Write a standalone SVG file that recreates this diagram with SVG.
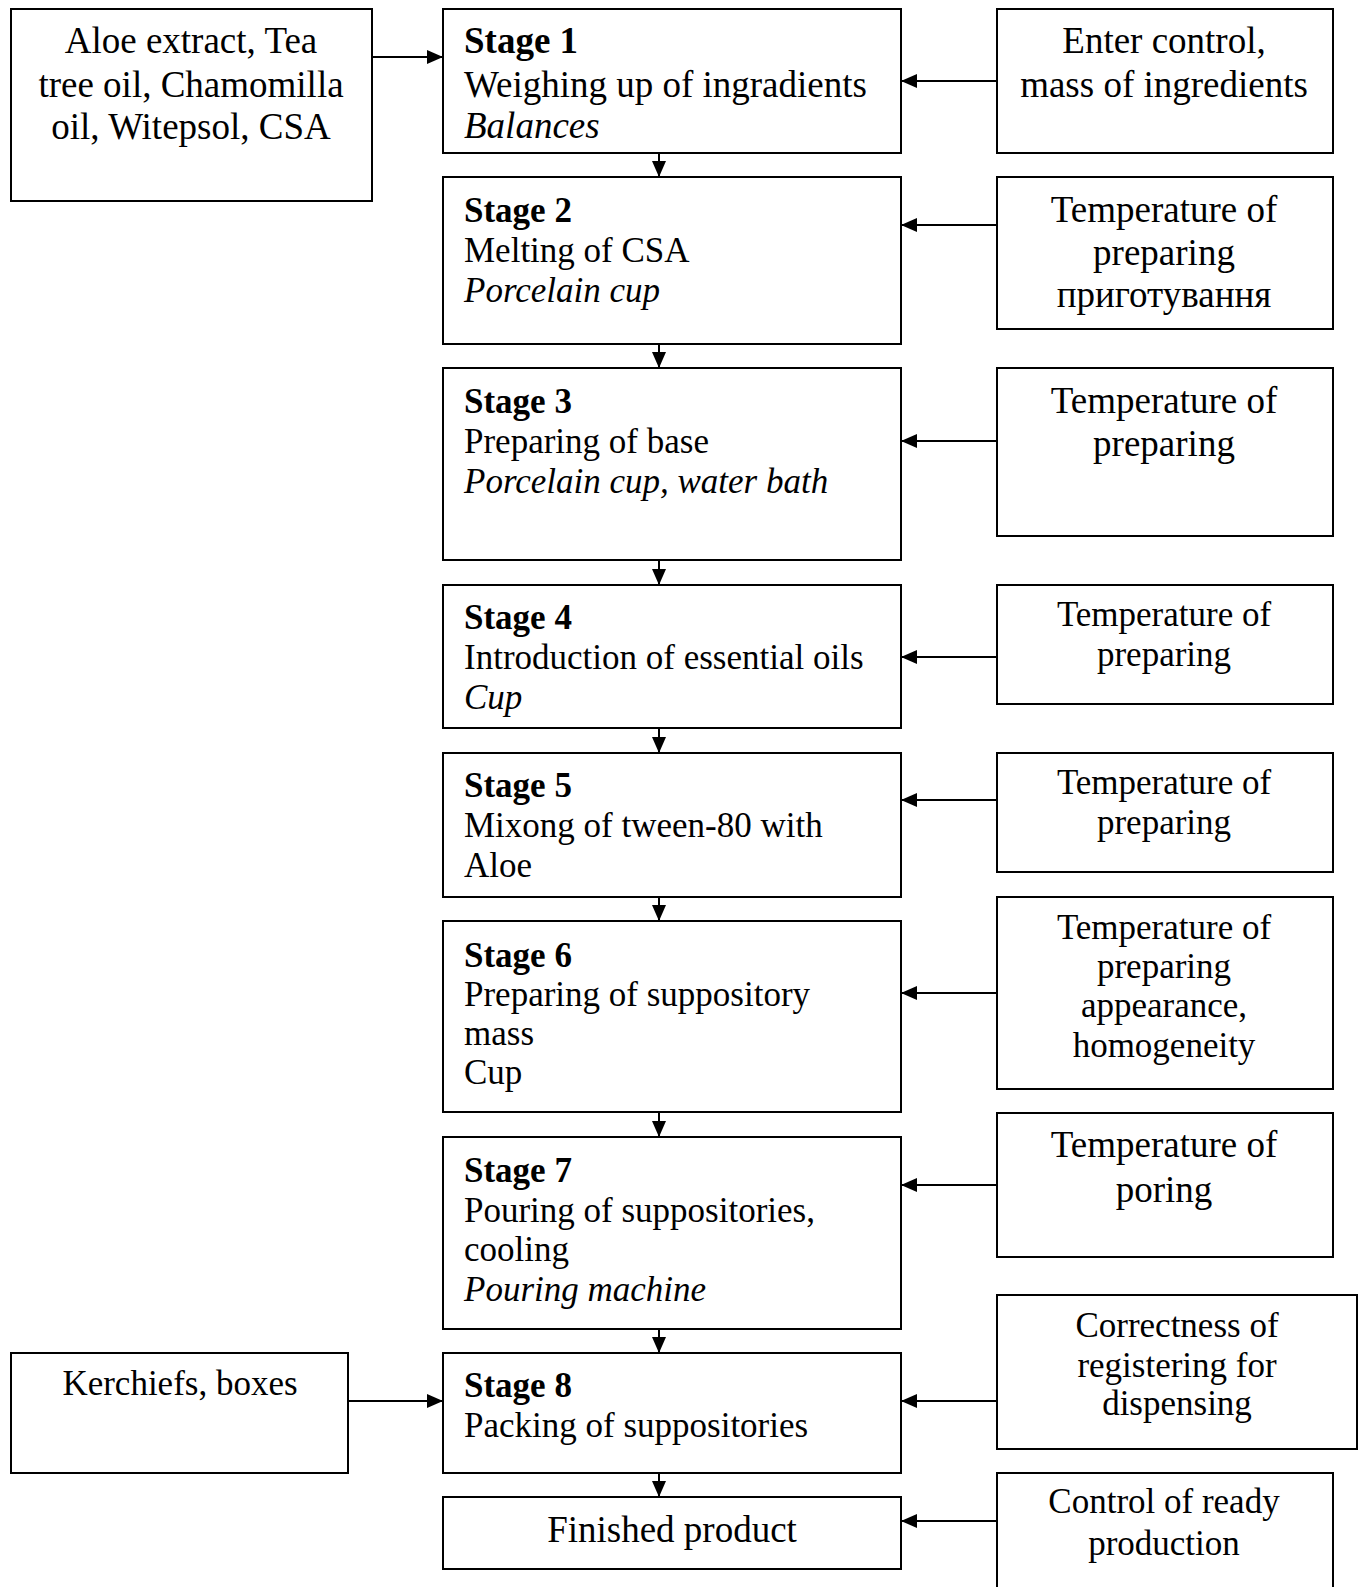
<svg xmlns="http://www.w3.org/2000/svg" width="1359" height="1587" viewBox="0 0 1359 1587">
<defs>
<style>
.box{fill:#fff;stroke:#000;stroke-width:2}
text{font-family:"Liberation Serif","Times New Roman",serif;fill:#000;font-size:35px}
.c{text-anchor:middle}
.b{font-weight:bold}
.i{font-style:italic}
.big{font-size:37px}
.ln{stroke:#000;stroke-width:2;fill:none}
</style>
<marker id="ah" viewBox="0 0 16 14" refX="16" refY="7" markerWidth="16" markerHeight="14" markerUnits="userSpaceOnUse" orient="auto">
<path d="M0,0 L16,7 L0,14 Z" fill="#000"/>
</marker>
</defs>
<rect width="1359" height="1587" fill="#fff"/>

<g id="connectors">
<line class="ln" x1="372" y1="57" x2="443" y2="57" marker-end="url(#ah)"/>
<line class="ln" x1="348" y1="1401" x2="443" y2="1401" marker-end="url(#ah)"/>
<line class="ln" x1="659" y1="153" x2="659" y2="177" marker-end="url(#ah)"/>
<line class="ln" x1="659" y1="344" x2="659" y2="368" marker-end="url(#ah)"/>
<line class="ln" x1="659" y1="560" x2="659" y2="585" marker-end="url(#ah)"/>
<line class="ln" x1="659" y1="728" x2="659" y2="753" marker-end="url(#ah)"/>
<line class="ln" x1="659" y1="897" x2="659" y2="921" marker-end="url(#ah)"/>
<line class="ln" x1="659" y1="1112" x2="659" y2="1137" marker-end="url(#ah)"/>
<line class="ln" x1="659" y1="1329" x2="659" y2="1353" marker-end="url(#ah)"/>
<line class="ln" x1="659" y1="1473" x2="659" y2="1497" marker-end="url(#ah)"/>
<line class="ln" x1="997" y1="81" x2="901" y2="81" marker-end="url(#ah)"/>
<line class="ln" x1="997" y1="225" x2="901" y2="225" marker-end="url(#ah)"/>
<line class="ln" x1="997" y1="441" x2="901" y2="441" marker-end="url(#ah)"/>
<line class="ln" x1="997" y1="657" x2="901" y2="657" marker-end="url(#ah)"/>
<line class="ln" x1="997" y1="800" x2="901" y2="800" marker-end="url(#ah)"/>
<line class="ln" x1="997" y1="993" x2="901" y2="993" marker-end="url(#ah)"/>
<line class="ln" x1="997" y1="1185" x2="901" y2="1185" marker-end="url(#ah)"/>
<line class="ln" x1="997" y1="1401" x2="901" y2="1401" marker-end="url(#ah)"/>
<line class="ln" x1="997" y1="1521" x2="901" y2="1521" marker-end="url(#ah)"/>
</g>

<g id="input1">
<rect class="box" x="11" y="9" width="361" height="192"/>
<text class="c big" x="191" y="53">Aloe extract, Tea</text>
<text class="c big" x="191" y="97">tree oil, Chamomilla</text>
<text class="c big" x="191" y="139">oil, Witepsol, CSA</text>
</g>

<g id="input8">
<rect class="box" x="11" y="1353" width="337" height="120"/>
<text class="c" x="180" y="1395">Kerchiefs, boxes</text>
</g>

<g id="stage1">
<rect class="box" x="443" y="9" width="458" height="144"/>
<text class="b big" x="464" y="53">Stage 1</text>
<text class="big" x="464" y="97">Weighing up of ingradients</text>
<text class="i big" x="464" y="138">Balances</text>
</g>

<g id="stage2">
<rect class="box" x="443" y="177" width="458" height="167"/>
<text class="b" x="464" y="222">Stage 2</text>
<text x="464" y="262">Melting of CSA</text>
<text class="i" x="464" y="302">Porcelain cup</text>
</g>

<g id="stage3">
<rect class="box" x="443" y="368" width="458" height="192"/>
<text class="b" x="464" y="413">Stage 3</text>
<text x="464" y="453">Preparing of base</text>
<text class="i" x="464" y="493">Porcelain cup, water bath</text>
</g>

<g id="stage4">
<rect class="box" x="443" y="585" width="458" height="143"/>
<text class="b" x="464" y="629">Stage 4</text>
<text x="464" y="669">Introduction of essential oils</text>
<text class="i" x="464" y="709">Cup</text>
</g>

<g id="stage5">
<rect class="box" x="443" y="753" width="458" height="144"/>
<text class="b" x="464" y="797">Stage 5</text>
<text x="464" y="837">Mixong of tween-80 with</text>
<text x="464" y="877">Aloe</text>
</g>

<g id="stage6">
<rect class="box" x="443" y="921" width="458" height="191"/>
<text class="b" x="464" y="967">Stage 6</text>
<text x="464" y="1006">Preparing of suppository</text>
<text x="464" y="1045">mass</text>
<text x="464" y="1084">Cup</text>
</g>

<g id="stage7">
<rect class="box" x="443" y="1137" width="458" height="192"/>
<text class="b" x="464" y="1182">Stage 7</text>
<text x="464" y="1222">Pouring of suppositories,</text>
<text x="464" y="1261">cooling</text>
<text class="i" x="464" y="1301">Pouring machine</text>
</g>

<g id="stage8">
<rect class="box" x="443" y="1353" width="458" height="120"/>
<text class="b" x="464" y="1397">Stage 8</text>
<text x="464" y="1437">Packing of suppositories</text>
</g>

<g id="finished">
<rect class="box" x="443" y="1497" width="458" height="72"/>
<text class="c big" x="672" y="1542">Finished product</text>
</g>

<g id="control1">
<rect class="box" x="997" y="9" width="336" height="144"/>
<text class="c big" x="1164" y="53">Enter control,</text>
<text class="c big" x="1164" y="97">mass of ingredients</text>
</g>

<g id="control2">
<rect class="box" x="997" y="177" width="336" height="152"/>
<text class="c big" x="1164" y="222">Temperature of</text>
<text class="c big" x="1164" y="265">preparing</text>
<text class="c big" x="1164" y="307">приготування</text>
</g>

<g id="control3">
<rect class="box" x="997" y="368" width="336" height="168"/>
<text class="c big" x="1164" y="413">Temperature of</text>
<text class="c big" x="1164" y="456">preparing</text>
</g>

<g id="control4">
<rect class="box" x="997" y="585" width="336" height="119"/>
<text class="c" x="1164" y="626">Temperature of</text>
<text class="c" x="1164" y="666">preparing</text>
</g>

<g id="control5">
<rect class="box" x="997" y="753" width="336" height="119"/>
<text class="c" x="1164" y="794">Temperature of</text>
<text class="c" x="1164" y="834">preparing</text>
</g>

<g id="control6">
<rect class="box" x="997" y="897" width="336" height="192"/>
<text class="c" x="1164" y="939">Temperature of</text>
<text class="c" x="1164" y="978">preparing</text>
<text class="c" x="1164" y="1017">appearance,</text>
<text class="c" x="1164" y="1057">homogeneity</text>
</g>

<g id="control7">
<rect class="box" x="997" y="1113" width="336" height="144"/>
<text class="c big" x="1164" y="1157">Temperature of</text>
<text class="c big" x="1164" y="1202">poring</text>
</g>

<g id="control8">
<rect class="box" x="997" y="1295" width="360" height="154"/>
<text class="c" x="1177" y="1337">Correctness of</text>
<text class="c" x="1177" y="1377">registering for</text>
<text class="c" x="1177" y="1415">dispensing</text>
</g>

<g id="controlFinal">
<rect class="box" x="997" y="1473" width="336" height="130"/>
<text class="c" x="1164" y="1513">Control of ready</text>
<text class="c" x="1164" y="1555">production</text>
</g>
</svg>
